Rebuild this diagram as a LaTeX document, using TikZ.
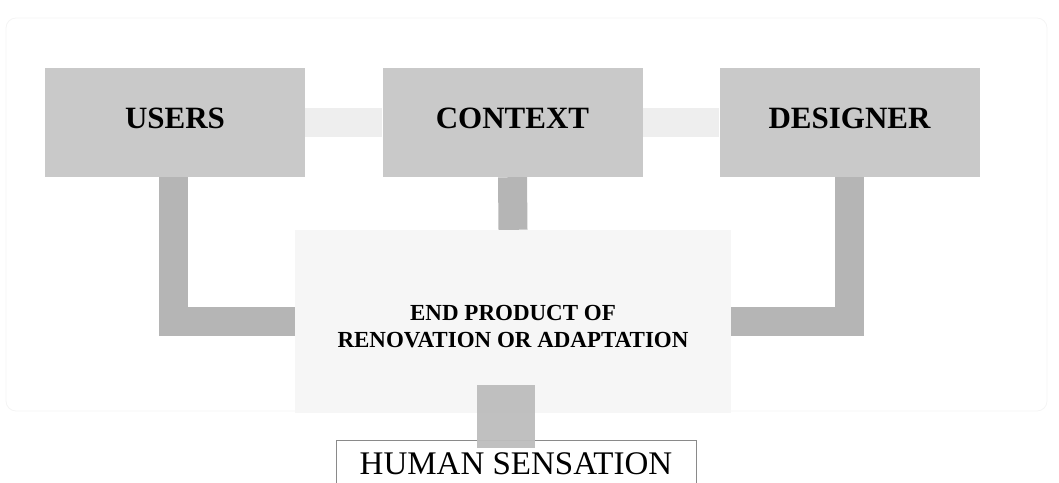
\documentclass[tikz,border=0pt]{standalone}
\usepackage{fontspec}
\setmainfont{Liberation Serif}
\begin{document}
\begin{tikzpicture}[x=1pt,y=-1pt,
  topbox/.style={rectangle, fill=boxgray, minimum width=260pt, minimum height=109pt,
    inner sep=0pt, text depth=8pt, font=\fontsize{31}{34}\selectfont\bfseries},
  endbox/.style={rectangle, fill=endgray, minimum width=436pt, minimum height=183pt, inner sep=0pt},
  conn/.style={draw=conngray, line width=29pt, line cap=butt, line join=miter},
  tie/.style={draw=tiegray, line width=29pt, line cap=butt},
  frame/.style={draw=framegray, line width=0.8pt, rounded corners=10pt}]
\definecolor{boxgray}{HTML}{C9C9C9}
\definecolor{conngray}{HTML}{B5B5B5}
\definecolor{tiegray}{HTML}{EEEEEE}
\definecolor{endgray}{HTML}{F6F6F6}
\definecolor{squaregray}{HTML}{BDBDBD}
\definecolor{hsborder}{HTML}{8A8A8A}
\definecolor{framegray}{HTML}{F4F4F4}
\useasboundingbox (0,0) rectangle (1059,482);
\clip (0,0) rectangle (1059,482);

% faint outer frame
\draw[frame] (6,18) rectangle (1047,411);

% top row
\node[topbox] (users)    at (175,122.5) {USERS};
\node[topbox] (context)  at (512.5,122.5) {CONTEXT};
\node[topbox] (designer) at (849.5,122.5) {DESIGNER};

% central result box
\node[endbox] (endp) at (513,321.5) {};

% light ties between the top boxes
\draw[tie] (users.east) -- (context.west);
\draw[tie] (context.east) -- (designer.west);

% connectors into the result box
\draw[conn] ([xshift=-2pt]users.south) |- (endp.west);
\draw[conn] (context.south) -- (endp.north);
\draw[conn] (designer.south) |- (endp.east);

% text of the result box
\node[align=center, font=\fontsize{23}{27}\selectfont\bfseries] (endtext) at (513,327)
  {END PRODUCT OF\\RENOVATION OR ADAPTATION};

% bottom box
\node[rectangle, draw=hsborder, line width=0.8pt, minimum width=360pt, minimum height=70pt,
  inner sep=0pt, anchor=north] (hs) at (516,440) {};
\node[font=\fontsize{33}{36}\selectfont] (hstext) at (516,464) {HUMAN SENSATION};

% link from result box down to the bottom box
\draw[draw=squaregray, line width=58pt, opacity=0.95]
  ([xshift=-7pt,yshift=28pt]endp.south) -- ([xshift=-10pt,yshift=-8pt]hs.north);
\end{tikzpicture}
\end{document}
